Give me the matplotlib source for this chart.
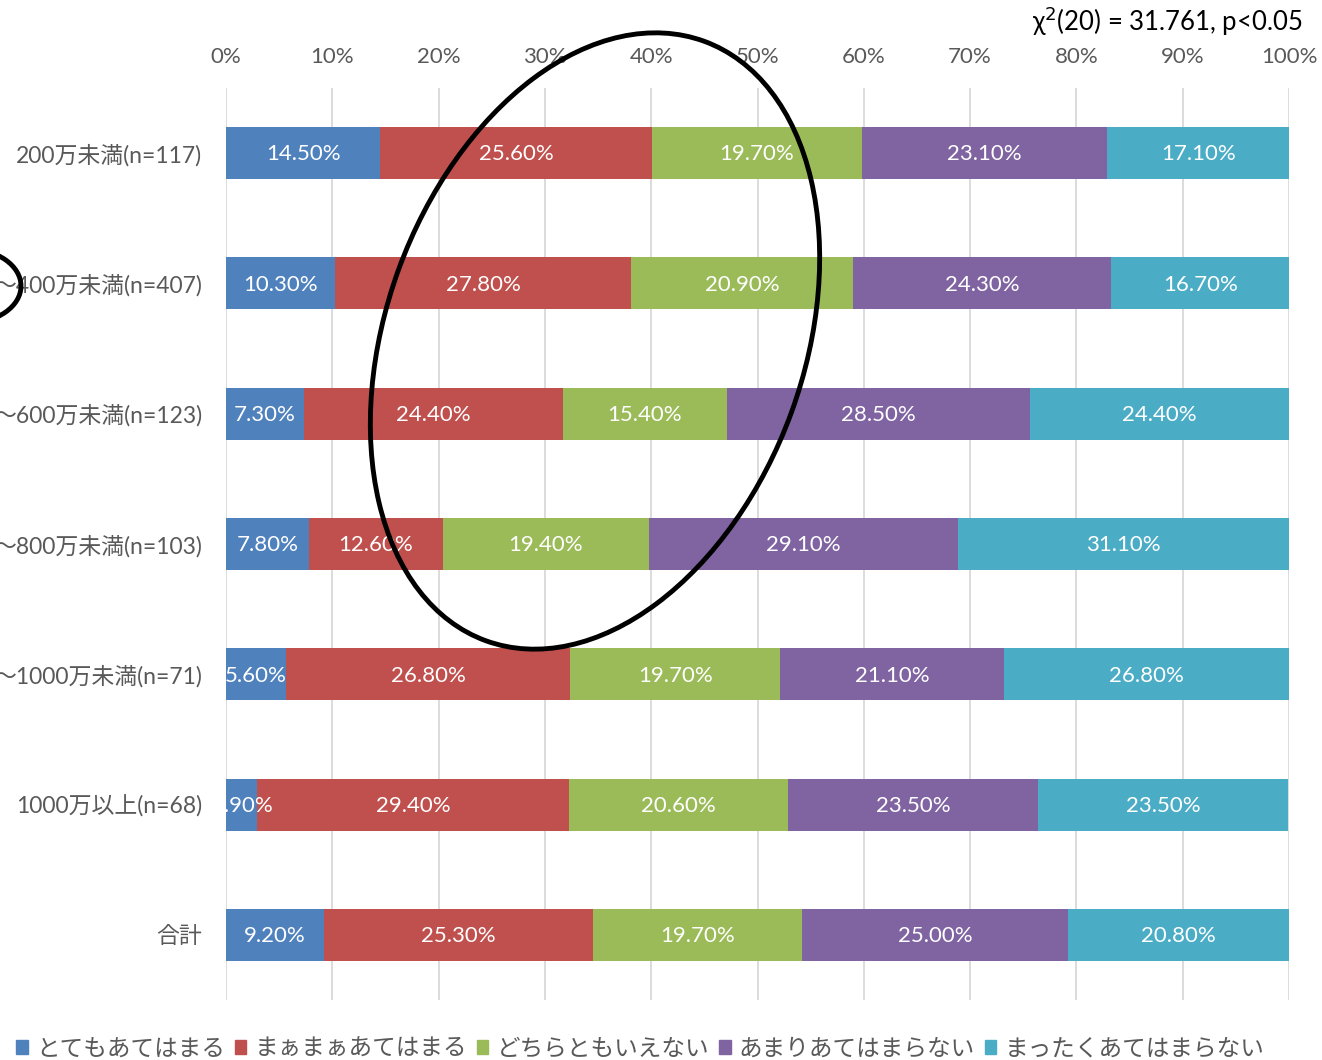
import matplotlib
matplotlib.use("Agg")
import matplotlib.pyplot as plt
from matplotlib.patches import Ellipse, Patch
from matplotlib.transforms import IdentityTransform
import numpy as np

FONT = ["Lato", "Noto Sans CJK JP", "DejaVu Sans"]
plt.rcParams["font.family"] = FONT

categories = ["200万未満(n=117)", "～400万未満(n=407)", "～600万未満(n=123)",
              "～800万未満(n=103)", "～1000万未満(n=71)", "1000万以上(n=68)", "合計"]
series = ["とてもあてはまる", "まぁまぁあてはまる", "どちらともいえない",
          "あまりあてはまらない", "まったくあてはまらない"]
very = [14.5, 10.3, 7.3, 7.8, 5.6, 2.9, 9.2]
fairly = [25.6, 27.8, 24.4, 12.6, 26.8, 29.4, 25.3]
neither = [19.7, 20.9, 15.4, 19.4, 19.7, 20.6, 19.7]
not_much = [23.1, 24.3, 28.5, 29.1, 21.1, 23.5, 25.0]
not_at_all = [17.1, 16.7, 24.4, 31.1, 26.8, 23.5, 20.8]
values = [very, fairly, neither, not_much, not_at_all]
colors = ["#4F81BD", "#C0504D", "#9BBB59", "#8064A2", "#4BACC6"]

W, H = 1322, 1060
fig = plt.figure(figsize=(W / 100, H / 100), dpi=100)
ax = fig.add_axes([226 / W, 60 / H, 1063 / W, 912 / H])

y = np.arange(len(categories))
left = np.zeros(len(categories))
for name, vals, col in zip(series, values, colors):
    vals = np.array(vals)
    ax.barh(y, vals, left=left, height=0.4, color=col, label=name, zorder=2)
    for yi, l, v in zip(y, left, vals):
        ax.text(l + v / 2, yi + 0.01, f"{v:.2f}%", ha="center", va="center",
                color="white", fontsize=16, zorder=3)
    left += vals

ax.set_xlim(0, 100)
ax.set_ylim(len(categories) - 0.5, -0.5)
ax.set_xticks(np.arange(0, 101, 10))
ax.set_xticklabels([f"{t}%" for t in range(0, 101, 10)])
ax.set_yticks(y)
ax.set_yticklabels(categories)
ax.xaxis.tick_top()
ax.tick_params(axis="x", length=0, pad=15, labelsize=16, labelcolor="#595959")
ax.tick_params(axis="y", length=0, pad=17, labelsize=16.5, labelcolor="#595959")
ax.grid(axis="x", color="#D9D9D9", linewidth=1.3, zorder=0)
ax.set_axisbelow(True)
for s in ax.spines.values():
    s.set_visible(False)

fig.text(1302 / W, 1 - 21 / H, "χ$^2$(20) = 31.761, p<0.05", ha="right", va="center",
         fontsize=18.5, color="black")

handles = [Patch(color=c) for c in colors]
fig.legend(handles, series, loc="center left", bbox_to_anchor=(16 / W, 1 - 1049 / H),
           ncol=5, frameon=False, fontsize=17, labelcolor="#595959",
           handlelength=0.5, handleheight=0.5, handletextpad=0.35,
           columnspacing=0.4, borderpad=0, borderaxespad=0)

# hand-drawn annotation circles
fig.patches.append(Ellipse((595, H - 341), 418, 638, angle=-20, fill=False,
                           edgecolor="black", linewidth=3.5, transform=IdentityTransform()))
fig.patches.append(Ellipse((-32, H - 286), 106, 74, angle=0, fill=False,
                           edgecolor="black", linewidth=3.5, transform=IdentityTransform()))

fig.savefig("out.png", dpi=100)
